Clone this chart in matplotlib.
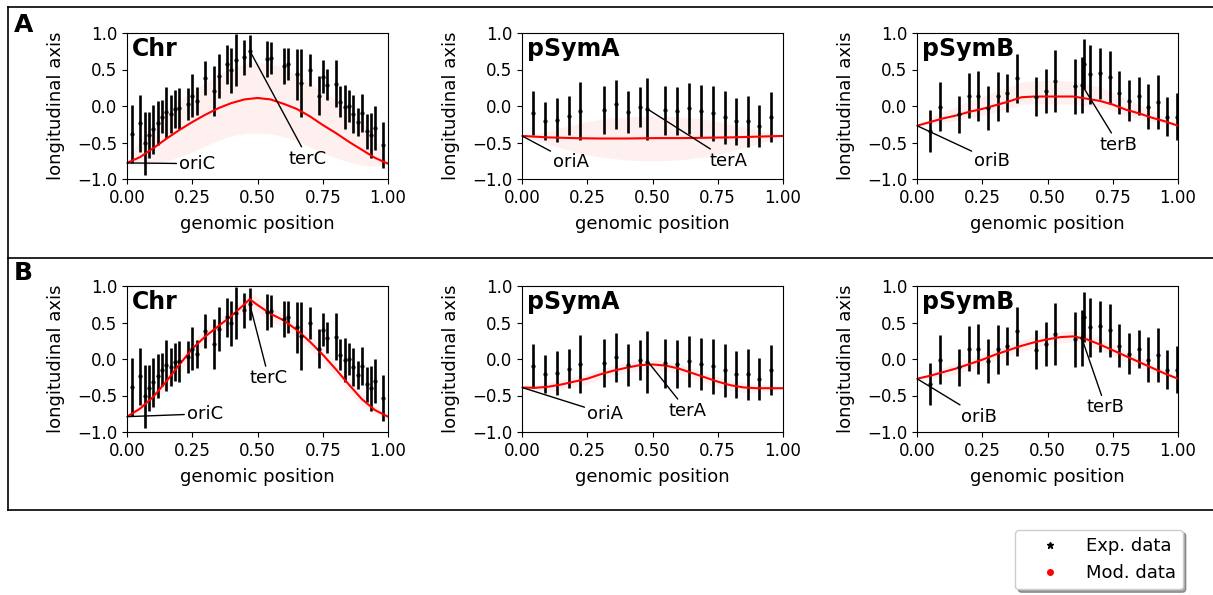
import matplotlib.pyplot as plt
from matplotlib.lines import Line2D

# experimental data (same in both rows)
chr_x = [0.018, 0.05, 0.068, 0.084, 0.10, 0.118, 0.134, 0.151, 0.167, 0.184, 0.20,
         0.234, 0.25, 0.268, 0.30, 0.335, 0.351, 0.384, 0.40, 0.418, 0.45, 0.47,
         0.535, 0.552, 0.60, 0.618, 0.651, 0.668, 0.70, 0.734, 0.751, 0.768, 0.80,
         0.817, 0.834, 0.85, 0.867, 0.885, 0.90, 0.918, 0.935, 0.951, 0.982]
chr_y = [-0.383, -0.237, -0.511, -0.397, -0.32, -0.228, -0.146, -0.087, -0.11, -0.04, -0.03,
         0.023, 0.142, 0.064, 0.38, 0.205, 0.416, 0.571, 0.49, 0.63, 0.667, 0.758,
         0.644, 0.662, 0.548, 0.571, 0.434, 0.315, 0.49, 0.142, 0.402, 0.292, 0.306,
         0.06, -0.014, -0.005, -0.105, -0.219, -0.10, -0.347, -0.40, -0.297, -0.534]
chr_err = [0.40, 0.39, 0.43, 0.32, 0.34, 0.30, 0.23, 0.35, 0.26, 0.26, 0.28,
           0.22, 0.29, 0.19, 0.23, 0.34, 0.30, 0.27, 0.31, 0.35, 0.24, 0.22,
           0.24, 0.22, 0.24, 0.22, 0.35, 0.46, 0.22, 0.27, 0.23, 0.21, 0.32,
           0.21, 0.30, 0.22, 0.26, 0.19, 0.26, 0.24, 0.31, 0.30, 0.32]

psa_x = [0.043, 0.088, 0.134, 0.18, 0.222, 0.315, 0.36, 0.405, 0.451, 0.48,
         0.548, 0.594, 0.64, 0.686, 0.73, 0.777, 0.819, 0.865, 0.909, 0.955]
psa_y = [-0.10, -0.205, -0.192, -0.132, -0.068, -0.055, 0.023, -0.078, -0.014, -0.04,
         -0.06, -0.068, -0.032, -0.068, -0.10, -0.155, -0.21, -0.21, -0.27, -0.15]
psa_err = [0.30, 0.26, 0.30, 0.27, 0.40, 0.33, 0.34, 0.29, 0.27, 0.43,
           0.34, 0.33, 0.35, 0.35, 0.38, 0.36, 0.32, 0.35, 0.29, 0.34]

psb_x = [0.05, 0.088, 0.161, 0.198, 0.234, 0.271, 0.309, 0.345, 0.382, 0.457, 0.494,
         0.53, 0.604, 0.632, 0.64, 0.664, 0.701, 0.738, 0.775, 0.812, 0.849, 0.885,
         0.922, 0.959, 0.996]
psb_y = [-0.342, -0.009, -0.114, 0.142, 0.137, -0.027, 0.132, 0.174, 0.379, 0.128, 0.21,
         0.342, 0.269, 0.288, 0.575, 0.434, 0.447, 0.393, 0.183, 0.073, 0.142, -0.009,
         0.06, -0.146, -0.146]
psb_err = [0.29, 0.34, 0.25, 0.31, 0.34, 0.30, 0.34, 0.26, 0.34, 0.27, 0.30,
           0.42, 0.38, 0.38, 0.34, 0.40, 0.35, 0.36, 0.29, 0.28, 0.26, 0.31,
           0.37, 0.27, 0.32]

# model curves
mx = [0.0, 0.05, 0.1, 0.15, 0.2, 0.25, 0.3, 0.35, 0.4, 0.45, 0.5,
      0.55, 0.6, 0.65, 0.7, 0.75, 0.8, 0.85, 0.9, 0.95, 1.0]

a_chr = [-0.78, -0.70, -0.58, -0.45, -0.33, -0.22, -0.12, -0.03, 0.04, 0.09, 0.11,
         0.09, 0.03, -0.04, -0.14, -0.26, -0.37, -0.49, -0.60, -0.71, -0.79]
a_chr_hi = [-0.76, -0.45, -0.22, -0.05, 0.08, 0.20, 0.32, 0.43, 0.52, 0.58, 0.60,
            0.58, 0.52, 0.43, 0.32, 0.20, 0.08, -0.05, -0.22, -0.45, -0.78]
a_chr_lo = [-0.80, -0.82, -0.80, -0.76, -0.70, -0.63, -0.55, -0.47, -0.41, -0.38, -0.37,
            -0.38, -0.42, -0.48, -0.56, -0.64, -0.71, -0.77, -0.81, -0.83, -0.80]

a_psa = [-0.41, -0.42, -0.43, -0.435, -0.44, -0.443, -0.445, -0.445, -0.445, -0.443, -0.44,
         -0.44, -0.44, -0.438, -0.435, -0.432, -0.43, -0.425, -0.42, -0.415, -0.41]
a_psa_hi = [-0.41, -0.38, -0.35, -0.30, -0.25, -0.21, -0.18, -0.16, -0.15, -0.14, -0.14,
            -0.14, -0.15, -0.16, -0.18, -0.21, -0.25, -0.29, -0.33, -0.37, -0.40]
a_psa_lo = [-0.41, -0.47, -0.52, -0.58, -0.63, -0.67, -0.70, -0.72, -0.74, -0.75, -0.75,
            -0.75, -0.74, -0.72, -0.70, -0.66, -0.62, -0.57, -0.52, -0.47, -0.42]

a_psb = [-0.27, -0.22, -0.17, -0.13, -0.08, -0.04, 0.01, 0.06, 0.12, 0.13, 0.13,
         0.13, 0.13, 0.10, 0.07, 0.02, -0.05, -0.10, -0.16, -0.21, -0.27]
a_psb_hi = [-0.27, -0.17, -0.08, -0.01, 0.07, 0.13, 0.20, 0.26, 0.33, 0.35, 0.35,
            0.35, 0.34, 0.30, 0.26, 0.19, 0.10, 0.02, -0.07, -0.16, -0.27]
a_psb_lo = [-0.27, -0.25, -0.22, -0.20, -0.16, -0.13, -0.09, -0.04, 0.02, 0.03, 0.03,
            0.03, 0.03, 0.0, -0.02, -0.06, -0.13, -0.17, -0.21, -0.24, -0.27]

b_chr_x = [0.0, 0.05, 0.1, 0.15, 0.2, 0.25, 0.3, 0.35, 0.4, 0.45, 0.47, 0.5,
           0.55, 0.6, 0.65, 0.7, 0.75, 0.8, 0.85, 0.9, 0.95, 1.0]
b_chr = [-0.79, -0.68, -0.52, -0.31, -0.08, 0.14, 0.31, 0.45, 0.59, 0.75, 0.82, 0.74,
         0.62, 0.53, 0.40, 0.24, 0.06, -0.14, -0.35, -0.55, -0.70, -0.79]
b_chr_sp = [0.01, 0.06, 0.09, 0.10, 0.10, 0.10, 0.10, 0.10, 0.10, 0.10, 0.10, 0.10,
            0.10, 0.10, 0.10, 0.10, 0.10, 0.10, 0.10, 0.09, 0.06, 0.01]

b_psa = [-0.39, -0.395, -0.38, -0.35, -0.31, -0.27, -0.21, -0.16, -0.12, -0.085, -0.075,
         -0.09, -0.13, -0.19, -0.25, -0.31, -0.36, -0.39, -0.40, -0.40, -0.40]
b_psa_sp = [0.01, 0.04, 0.06, 0.07, 0.07, 0.07, 0.07, 0.07, 0.07, 0.07, 0.07,
            0.07, 0.07, 0.07, 0.07, 0.07, 0.07, 0.07, 0.06, 0.04, 0.01]

b_psb = [-0.27, -0.23, -0.18, -0.13, -0.07, -0.01, 0.06, 0.12, 0.18, 0.23, 0.27,
         0.30, 0.31, 0.27, 0.20, 0.12, 0.04, -0.04, -0.12, -0.20, -0.27]
b_psb_sp = [0.01, 0.04, 0.06, 0.08, 0.08, 0.08, 0.08, 0.08, 0.08, 0.08, 0.08,
            0.08, 0.08, 0.08, 0.08, 0.08, 0.08, 0.08, 0.06, 0.04, 0.01]

names = ['Chr', 'pSymA', 'pSymB']
exp_data = [(chr_x, chr_y, chr_err), (psa_x, psa_y, psa_err), (psb_x, psb_y, psb_err)]

W, H = 1213, 595
plt.rcParams['font.size'] = 12
fig = plt.figure(figsize=(W / 100, H / 100), dpi=100)

lefts = [127, 522, 917]
tops = [33, 286]


def make_ax(col, row):
    l = lefts[col]
    t = tops[row]
    return fig.add_axes([l / W, 1 - (t + 146) / H, 261 / W, 146 / H])


rows = [
    [(mx, a_chr, a_chr_lo, a_chr_hi), (mx, a_psa, a_psa_lo, a_psa_hi), (mx, a_psb, a_psb_lo, a_psb_hi)],
    [(b_chr_x, b_chr, [m - s for m, s in zip(b_chr, b_chr_sp)], [m + s for m, s in zip(b_chr, b_chr_sp)]),
     (mx, b_psa, [m - s for m, s in zip(b_psa, b_psa_sp)], [m + s for m, s in zip(b_psa, b_psa_sp)]),
     (mx, b_psb, [m - s for m, s in zip(b_psb, b_psb_sp)], [m + s for m, s in zip(b_psb, b_psb_sp)])],
]

# annotations: (label, point, text position)
notes = [
    [[('oriC', (0, -0.78), (0.2, -0.79)), ('terC', (0.47, 0.76), (0.62, -0.72))],
     [('oriA', (0, -0.41), (0.12, -0.77)), ('terA', (0.48, -0.04), (0.72, -0.75))],
     [('oriB', (0, -0.27), (0.22, -0.75)), ('terB', (0.632, 0.288), (0.7, -0.53))]],
    [[('oriC', (0, -0.79), (0.23, -0.75)), ('terC', (0.469, 0.77), (0.47, -0.26))],
     [('oriA', (0, -0.39), (0.25, -0.75)), ('terA', (0.483, -0.04), (0.56, -0.71))],
     [('oriB', (0, -0.27), (0.17, -0.79)), ('terB', (0.63, 0.30), (0.65, -0.66))]],
]

for r in range(2):
    for c in range(3):
        ax = make_ax(c, r)
        x, y, e = exp_data[c]
        px, py, plo, phi = rows[r][c]
        ax.fill_between(px, plo, phi, color='red', alpha=0.06, lw=0)
        ax.errorbar(x, y, yerr=e, fmt='.', color='k', ms=4, elinewidth=1.9, capsize=0)
        ax.plot(px, py, color='red', lw=1.5)
        ax.set_xlim(0, 1)
        ax.set_ylim(-1, 1)
        ax.set_xticks([0, 0.25, 0.5, 0.75, 1.0])
        ax.set_yticks([-1, -0.5, 0, 0.5, 1.0])
        ax.tick_params(labelsize=12)
        ax.set_xlabel('genomic position', fontsize=13, labelpad=6)
        ax.set_ylabel('longitudinal axis', fontsize=13, labelpad=9)
        ax.text(0.02, 0.97, names[c], transform=ax.transAxes, fontsize=17,
                fontweight='bold', va='top', ha='left')
        for lab, xy, xyt in notes[r][c]:
            ax.annotate(lab, xy=xy, xytext=xyt, ha='left', va='center', fontsize=13,
                        arrowprops=dict(arrowstyle='-', color='k', lw=1, shrinkA=0, shrinkB=0))

# row frames
for yy in [7, 258, 510]:
    fig.add_artist(Line2D([8 / W, 1], [1 - yy / H, 1 - yy / H], color='k', lw=1.2))
fig.add_artist(Line2D([8 / W, 8 / W], [1 - 7 / H, 1 - 510 / H], color='k', lw=1.2))
fig.text(14 / W, 1 - 25 / H, 'A', fontsize=18, fontweight='bold', va='center')
fig.text(14 / W, 1 - 273 / H, 'B', fontsize=18, fontweight='bold', va='center')

handles = [Line2D([], [], ls='none', marker='*', color='k', ms=5),
           Line2D([], [], ls='none', marker='o', color='red', ms=4)]
fig.legend(handles, ['Exp. data', 'Mod. data'], loc='upper right',
           bbox_to_anchor=(1183 / W, 1 - 530 / H), borderaxespad=0, fontsize=13,
           shadow=True, fancybox=True, framealpha=1, edgecolor='0.8',
           handlelength=3, handletextpad=0.5)

fig.savefig('out.png', dpi=100)
